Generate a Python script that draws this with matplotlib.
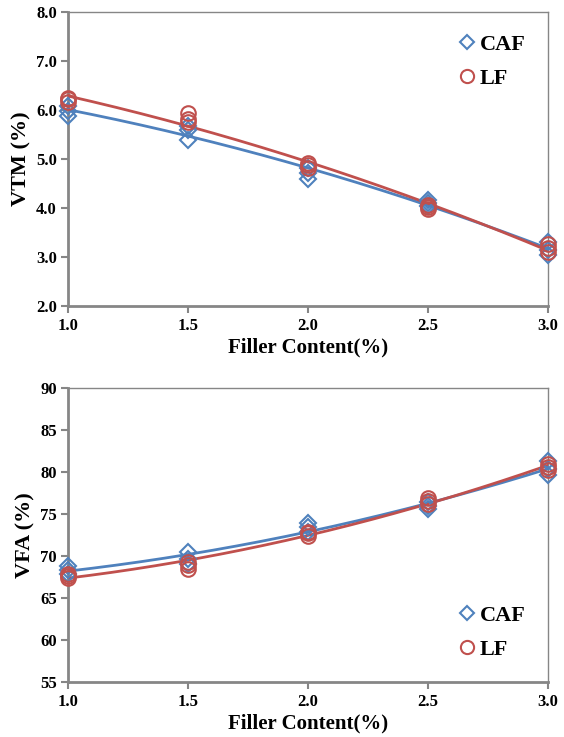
import numpy as np
import matplotlib
matplotlib.use("Agg")
import matplotlib.pyplot as plt
from matplotlib.lines import Line2D

# ---- data ----
filler = [1.0, 1.5, 2.0, 2.5, 3.0]

vtm_caf = [[5.88, 5.98, 6.08], [5.39, 5.60, 5.68], [4.60, 4.72, 4.82], [4.05, 4.10, 4.16], [3.05, 3.15, 3.30]]
vtm_lf = [[6.17, 6.22, 6.25], [5.76, 5.82, 5.94], [4.82, 4.87, 4.92], [3.97, 4.02, 4.07], [3.10, 3.18, 3.26]]

vfa_caf = [[67.9, 68.3, 68.8], [69.1, 69.6, 70.5], [72.9, 73.5, 73.9], [75.6, 76.0, 76.4], [79.6, 80.4, 81.3]]
vfa_lf = [[67.4, 67.6, 67.9], [68.5, 68.9, 69.3], [72.4, 72.7, 72.9], [76.2, 76.5, 76.9], [80.2, 80.6, 81.0]]

series_names = ["CAF", "LF"]
blue = "#4F81BD"
red = "#C0504D"
grey = "#868686"

plt.rcParams['font.family'] = ['Liberation Serif', 'DejaVu Serif']
plt.rcParams['font.weight'] = 'bold'

fig = plt.figure(figsize=(5.64, 7.37), dpi=100)
W, H = 564, 737
def add_ax(l, r, t, b):
    return fig.add_axes([l / W, 1 - b / H, (r - l) / W, (b - t) / H])

ax1 = add_ax(68, 548, 12, 306)
ax2 = add_ax(68, 548, 388, 682)


def draw(ax, caf, lf, ylim, yticks, yfmt, ylabel, legend_loc):
    xs_fit = np.linspace(1.0, 3.0, 200)
    for data, color, marker, ms in [(caf, blue, 'D', 8), (lf, red, 'o', 10.5)]:
        xs = np.repeat(filler, [len(d) for d in data])
        ys = np.concatenate(data)
        coef = np.polyfit(xs, ys, 2)
        ax.plot(xs_fit, np.polyval(coef, xs_fit), color=color, lw=2, zorder=3)
        ax.plot(xs, ys, linestyle='none', marker=marker, ms=ms, mfc='none',
                mec=color, mew=1.5, zorder=4, clip_on=False)
    ax.set_xlim(1.0, 3.0)
    ax.set_ylim(*ylim)
    ax.set_xticks(filler)
    ax.set_xticklabels([f"{v:.1f}" for v in filler])
    ax.set_yticks(yticks)
    ax.set_yticklabels([yfmt.format(v) for v in yticks])
    for s in ax.spines.values():
        s.set_color(grey)
        s.set_linewidth(1.0)
    ax.spines['left'].set_linewidth(2.0)
    ax.spines['bottom'].set_linewidth(2.0)
    ax.tick_params(axis='both', direction='out', color=grey, width=1.5, length=5,
                   labelsize=12)
    ax.tick_params(axis='x', pad=4)
    ax.tick_params(axis='y', pad=3)
    ax.tick_params(top=False, right=False)
    for lab in ax.get_xticklabels() + ax.get_yticklabels():
        lab.set_fontweight('bold')
    ax.set_xlabel("Filler Content(%)", fontsize=15, fontweight='bold', labelpad=2)
    ax.set_ylabel(ylabel, fontsize=16, fontweight='bold', labelpad=3)
    handles = [Line2D([], [], linestyle='none', marker='D', ms=7.5, mfc='none', mec=blue, mew=1.5),
               Line2D([], [], linestyle='none', marker='o', ms=9.5, mfc='none', mec=red, mew=1.5)]
    ax.legend(handles, series_names, loc=legend_loc, frameon=False,
              prop={'size': 16, 'weight': 'bold'}, handletextpad=0.0,
              labelspacing=0.6, borderaxespad=0.6, handlelength=1.2)


draw(ax1, vtm_caf, vtm_lf, (2.0, 8.0), [2, 3, 4, 5, 6, 7, 8], "{:.1f}", "VTM (%)", 'upper right')
draw(ax2, vfa_caf, vfa_lf, (55, 90), [55, 60, 65, 70, 75, 80, 85, 90], "{:d}", "VFA (%)", 'lower right')

fig.savefig("out.png", dpi=100)
